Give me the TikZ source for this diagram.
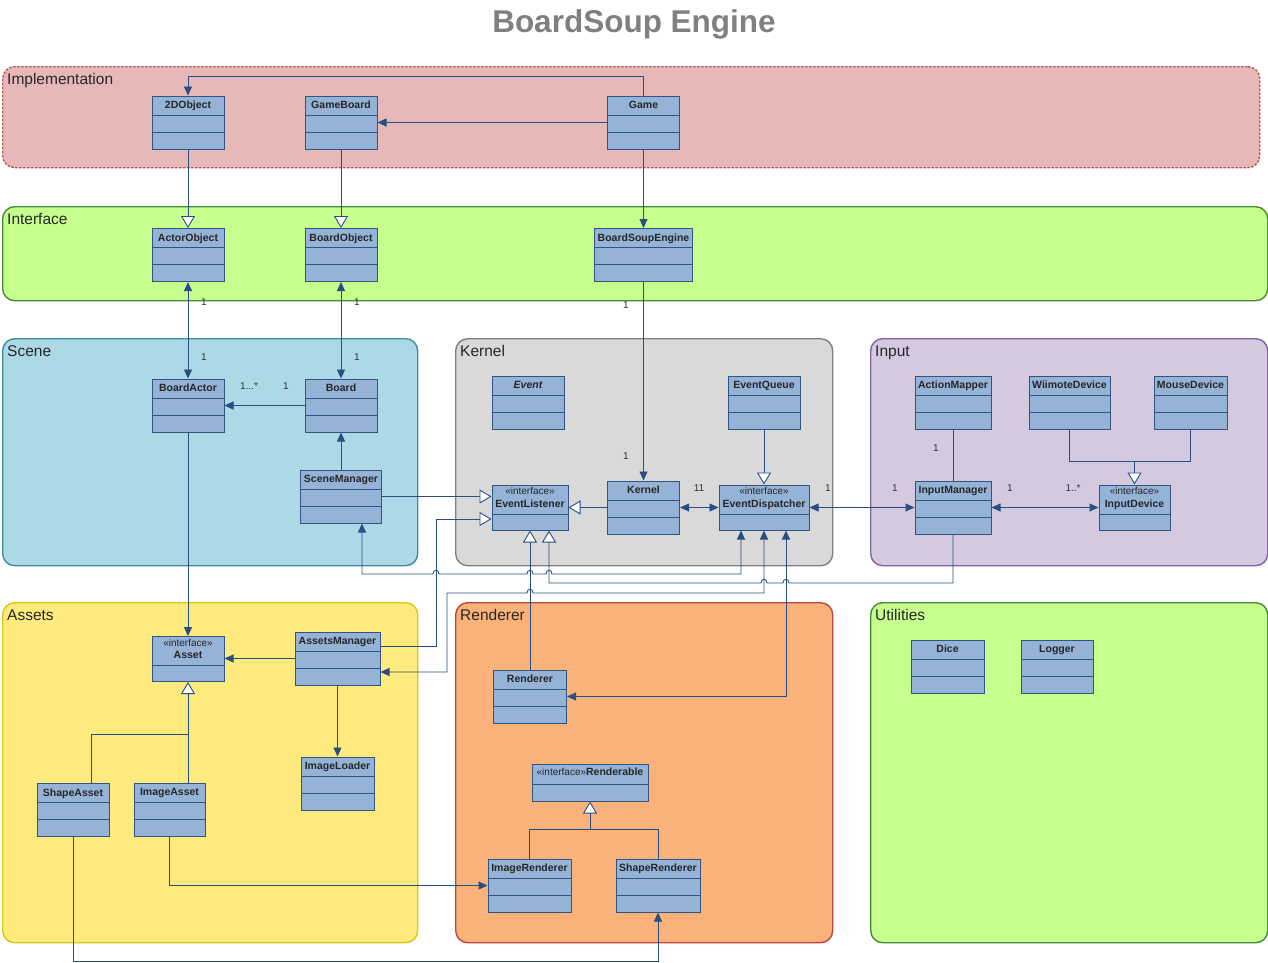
\documentclass[tikz,border=0pt]{standalone}
\usepackage{fontspec}
\setmainfont{Liberation Sans}
\usetikzlibrary{arrows.meta}

\definecolor{clsfill}{RGB}{149,179,215}
\definecolor{clsline}{RGB}{50,84,130}
\definecolor{wire}{RGB}{40,78,130}
\definecolor{implfill}{RGB}{230,185,184}
\definecolor{impldraw}{RGB}{192,80,77}
\definecolor{limefill}{RGB}{199,255,143}
\definecolor{limedraw}{RGB}{70,140,50}
\definecolor{scenefill}{RGB}{173,216,230}
\definecolor{scenedraw}{RGB}{60,140,165}
\definecolor{kernelfill}{RGB}{217,217,217}
\definecolor{kerneldraw}{RGB}{128,128,128}
\definecolor{inputfill}{RGB}{213,201,224}
\definecolor{inputdraw}{RGB}{128,100,162}
\definecolor{assetsfill}{RGB}{255,235,125}
\definecolor{assetsdraw}{RGB}{215,200,20}
\definecolor{rendfill}{RGB}{250,178,122}
\definecolor{renddraw}{RGB}{190,70,60}
\definecolor{titlegray}{RGB}{128,128,128}

\newcommand{\ifname}[1]{{\fontsize{10.5}{12}\selectfont\bfseries #1}}

\begin{document}
\begin{tikzpicture}[x=1pt,y=-1pt,
  pkg/.style={rounded corners=12pt, line width=1.4pt, inner sep=0pt, anchor=north west},
  pkglabel/.style={anchor=north west, inner xsep=5pt, inner ysep=7.5pt, font=\fontsize{15.5}{18}\selectfont, text=black!85},
  cls/.style={draw=clsline, fill=clsfill, line width=1pt, inner sep=0pt, minimum width=#1, minimum height=53pt,
    path picture={\draw[clsline, line width=1pt]
      ([yshift=-19pt]path picture bounding box.north west) -- ([yshift=-19pt]path picture bounding box.north east)
      ([yshift=-36pt]path picture bounding box.north west) -- ([yshift=-36pt]path picture bounding box.north east);}},
  cls/.default=72,
  iface/.style={draw=clsline, fill=clsfill, line width=1pt, inner sep=0pt, minimum width=#1, minimum height=45pt,
    path picture={\draw[clsline, line width=1pt]
      ([yshift=-29pt]path picture bounding box.north west) -- ([yshift=-29pt]path picture bounding box.north east);}},
  iface/.default=72,
  iline/.style={draw=clsline, fill=clsfill, line width=1pt, inner sep=0pt, minimum width=#1, minimum height=37pt,
    path picture={\draw[clsline, line width=1pt]
      ([yshift=-20pt]path picture bounding box.north west) -- ([yshift=-20pt]path picture bounding box.north east);}},
  ttl/.style={anchor=north, inner sep=5.5pt, font=\fontsize{10.5}{12}\selectfont\bfseries, text=black!85},
  ittl/.style={anchor=north, inner sep=3pt, align=center, font=\fontsize{10}{12.5}\selectfont, text=black!85},
  mult/.style={inner sep=0pt, font=\fontsize{10}{11}\selectfont, text=black!80},
  plainlink/.style={draw=wire, line width=0.9pt},
  assoc/.style={draw=wire, line width=0.9pt, -{Triangle[length=9pt,width=8pt]}},
  twoway/.style={draw=wire, line width=0.9pt, {Triangle[length=9pt,width=8pt]}-{Triangle[length=9pt,width=8pt]}},
  realize/.style={draw=wire, line width=0.9pt, -{Triangle[length=12pt,width=14pt,fill=white]}}]

  \useasboundingbox (0,0) rectangle (1268,962);

  \node[font=\fontsize{31.5}{36}\selectfont\bfseries, text=titlegray] (title) at (634,24) {BoardSoup Engine};

  % packages
  \node[pkg, fill=implfill, draw=impldraw, dash pattern=on 2.5pt off 1.5pt, minimum width=1257, minimum height=101,
    label={[pkglabel]north west:Implementation}] (implementation) at (2,66) {};
  \node[pkg, fill=limefill, draw=limedraw, minimum width=1265, minimum height=94,
    label={[pkglabel]north west:Interface}] (interface) at (2,206) {};
  \node[pkg, fill=scenefill, draw=scenedraw, minimum width=415, minimum height=227,
    label={[pkglabel]north west:Scene}] (scene) at (2,338) {};
  \node[pkg, fill=kernelfill, draw=kerneldraw, minimum width=377, minimum height=227,
    label={[pkglabel]north west:Kernel}] (kernelpkg) at (455,338) {};
  \node[pkg, fill=inputfill, draw=inputdraw, minimum width=397, minimum height=227,
    label={[pkglabel]north west:Input}] (input) at (870,338) {};
  \node[pkg, fill=assetsfill, draw=assetsdraw, minimum width=415, minimum height=340,
    label={[pkglabel]north west:Assets}] (assets) at (2,602) {};
  \node[pkg, fill=rendfill, draw=renddraw, minimum width=377, minimum height=340,
    label={[pkglabel]north west:Renderer}] (rendererpkg) at (455,602) {};
  \node[pkg, fill=limefill, draw=limedraw, minimum width=397, minimum height=340,
    label={[pkglabel]north west:Utilities}] (utilities) at (870,602) {};

  % implementation
  \node[cls, label={[ttl]north:2DObject}] (obj2d) at (188,122.5) {};
  \node[cls, label={[ttl]north:GameBoard}] (gameboard) at (341,122.5) {};
  \node[cls, label={[ttl]north:Game}] (game) at (643.5,122.5) {};

  % interface
  \node[cls, label={[ttl]north:ActorObject}] (actorobj) at (188,255) {};
  \node[cls, label={[ttl]north:BoardObject}] (boardobj) at (341,255) {};
  \node[cls=98, label={[ttl]north:BoardSoupEngine}] (engine) at (643.5,255) {};

  % scene
  \node[cls, label={[ttl]north:BoardActor}] (boardactor) at (188,405.5) {};
  \node[cls, label={[ttl]north:Board}] (board) at (341,405.5) {};
  \node[cls=81, label={[ttl]north:SceneManager}] (scenemgr) at (341,496.5) {};

  % kernel
  \node[cls, label={[ttl]north:{\itshape Event}}] (event) at (528,402.5) {};
  \node[cls, label={[ttl]north:EventQueue}] (eventqueue) at (764,402.5) {};
  \node[iface=76, label={[ittl]north:«interface»\\\ifname{EventListener}}] (listener) at (530,507.5) {};
  \node[cls, label={[ttl]north:Kernel}] (kernel) at (643.5,507.5) {};
  \node[iface=90, label={[ittl]north:«interface»\\\ifname{EventDispatcher}}] (dispatcher) at (764,507.5) {};

  % input
  \node[cls=76, label={[ttl]north:ActionMapper}] (actionmapper) at (953,402.5) {};
  \node[cls=81, label={[ttl]north:WiimoteDevice}] (wiimote) at (1069.5,402.5) {};
  \node[cls=73, label={[ttl]north:MouseDevice}] (mouse) at (1190.5,402.5) {};
  \node[cls=76, label={[ttl]north:InputManager}] (inputmgr) at (953,507.5) {};
  \node[iface=71, label={[ittl]north:«interface»\\\ifname{InputDevice}}] (inputdev) at (1134.5,507.5) {};

  % assets
  \node[iface, label={[ittl]north:«interface»\\\ifname{Asset}}] (asset) at (188,659) {};
  \node[cls=85, label={[ttl]north:AssetsManager}] (assetsmgr) at (337.5,658.5) {};
  \node[cls=73, label={[ttl]north:ImageLoader}] (imageloader) at (337.5,783.5) {};
  \node[cls, label={[ttl]north:ShapeAsset}] (shapeasset) at (73,810) {};
  \node[cls=71, label={[ttl]north:ImageAsset}] (imageasset) at (169.5,810) {};

  % renderer
  \node[cls=73, label={[ttl]north:Renderer}] (renderer) at (530,696.5) {};
  \node[iline=116, label={[ittl, inner sep=4pt]north:«interface»\ifname{Renderable}}] (renderable) at (590,782.5) {};
  \node[cls=83, label={[ttl]north:ImageRenderer}] (imagerend) at (529.5,885.5) {};
  \node[cls=84, label={[ttl]north:ShapeRenderer}] (shaperend) at (658,885.5) {};

  % utilities
  \node[cls=73, label={[ttl]north:Dice}] (dice) at (947.5,666.5) {};
  \node[cls, label={[ttl]north:Logger}] (logger) at (1057,666.5) {};

  \coordinate (devjoin) at (1134.5,461);
  \coordinate (assetjoin) at (188,734);
  \coordinate (rendjoin) at (590,829);
  \coordinate (bottomrun) at (73,961);

  % connectors
  \draw[assoc] (game.north) -- ++(0,-19) -| (obj2d.north);
  \draw[assoc] (game.west) -- (gameboard.east);
  \draw[assoc] (game.south) -- (engine.north);
  \draw[realize] (obj2d.south) -- (actorobj.north);
  \draw[realize] (gameboard.south) -- (boardobj.north);
  \draw[twoway] (actorobj.south) -- (boardactor.north);
  \draw[twoway] (boardobj.south) -- (board.north);
  \draw[assoc] (engine.south) -- (kernel.north);
  \draw[assoc] (board.west) -- (boardactor.east);
  \draw[assoc] (scenemgr.north) -- (board.south);
  \draw[realize] (scenemgr.east) -- (scenemgr.east -| listener.west);
  \draw[realize] ([yshift=12.5pt]assetsmgr.east) -| (436,519) -- ([yshift=-11.5pt]listener.west);
  \draw[realize] (kernel.west) -- (listener.east);
  \draw[twoway] (kernel.east) -- (dispatcher.west);
  \draw[twoway] (inputmgr.west) -- (dispatcher.east);
  \draw[realize] (eventqueue.south) -- (dispatcher.north);
  \draw[plainlink] (actionmapper.south) -- (inputmgr.north);
  \draw[twoway] (inputmgr.east) -- (inputdev.west);
  \draw[plainlink] (wiimote.south) |- (devjoin) -| (mouse.south);
  \draw[realize] (devjoin) -- (inputdev.north);

  \draw[twoway] ([xshift=21pt]scenemgr.south) -- (362,574) -- (433,574) .. controls (433,569) and (439,569) .. (439,574)
    -- (527,574) .. controls (527,569) and (533,569) .. (533,574)
    -- (546,574) .. controls (546,569) and (552,569) .. (552,574) -- (741,574) -- ([xshift=-23pt]dispatcher.south);
  \draw[realize] (inputmgr.south) -- (953,583) -- (789,583) .. controls (789,578) and (783,578) .. (783,583)
    -- (767,583) .. controls (767,578) and (761,578) .. (761,583) -- (549,583) -- ([xshift=19pt]listener.south);
  \draw[twoway] (dispatcher.south) -- (764,593) -- (533,593) .. controls (533,588) and (527,588) .. (527,593)
    -- (447,593) -- (447,672) -- ([yshift=-13.5pt]assetsmgr.east);
  \draw[twoway] ([xshift=22pt]dispatcher.south) |- (renderer.east);
  \draw[realize] (renderer.north) -- (listener.south);

  \draw[assoc] (boardactor.south) -- (asset.north);
  \draw[assoc] (assetsmgr.west) -- (assetsmgr.west -| asset.east);
  \draw[assoc] (assetsmgr.south) -- (imageloader.north);
  \draw[plainlink] ([xshift=18pt]shapeasset.north) |- (assetjoin);
  \draw[realize] (imageasset.north -| assetjoin) -- (asset.south);
  \draw[assoc] (imageasset.south) |- (imagerend.west);
  \draw[assoc] (shapeasset.south) -- (bottomrun) -| (shaperend.south);
  \draw[plainlink] (imagerend.north) |- (rendjoin) -| (shaperend.north);
  \draw[realize] (rendjoin) -- (renderable.south);

  % multiplicities
  \node[mult] (m1) at (204,302) {1};
  \node[mult] (m2) at (204,357) {1};
  \node[mult] (m3) at (357,302) {1};
  \node[mult] (m4) at (357,357) {1};
  \node[mult] (m5) at (626,305) {1};
  \node[mult] (m6) at (626,456) {1};
  \node[mult] (m7) at (249,386) {1...*};
  \node[mult] (m8) at (286,386) {1};
  \node[mult] (m9) at (699,488) {11};
  \node[mult] (m10) at (828,488) {1};
  \node[mult] (m11) at (895,488) {1};
  \node[mult] (m12) at (936,448) {1};
  \node[mult] (m13) at (1010,488) {1};
  \node[mult] (m14) at (1073,488) {1..*};
\end{tikzpicture}
\end{document}
